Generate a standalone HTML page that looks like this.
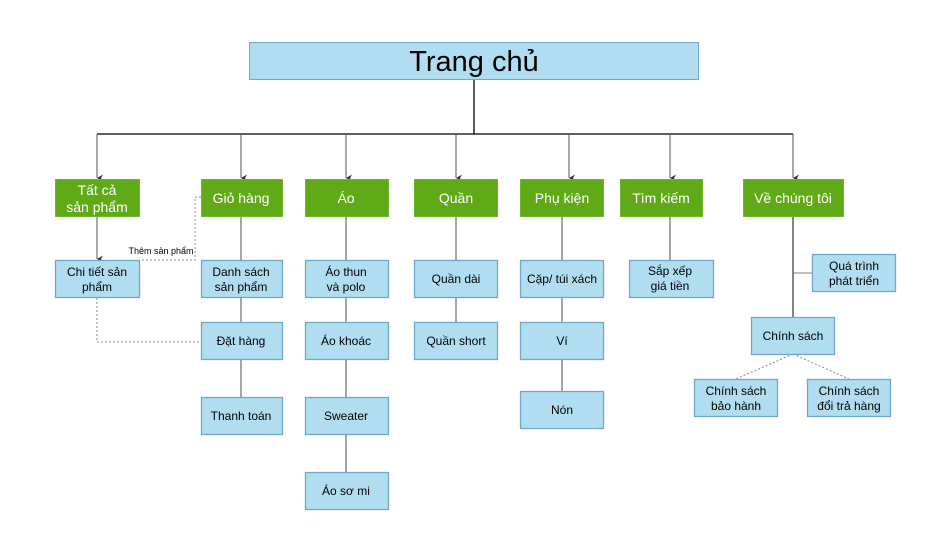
<!DOCTYPE html>
<html><head><meta charset="utf-8"><style>
html,body{margin:0;padding:0;background:#fff;}
svg{display:block;}
text{font-family:"Liberation Sans",Arial,sans-serif;}
</style></head><body>
<svg width="943" height="533" viewBox="0 0 943 533" xmlns="http://www.w3.org/2000/svg">
<defs>
<marker id="ar" markerWidth="8" markerHeight="8" refX="4" refY="7" orient="auto" markerUnits="userSpaceOnUse">
<path d="M0.5,1 L4,7 L7.5,1 L4,3 Z" fill="#333"/>
</marker>
</defs>
<g stroke="#000" stroke-width="1.3" fill="none">
<line x1="474" y1="79" x2="474" y2="134"/>
<line x1="97" y1="134" x2="793" y2="134"/>
</g>
<g stroke="#555" stroke-width="1" fill="none" marker-end="url(#ar)">
<line x1="97" y1="134" x2="97" y2="178"/>
<line x1="241" y1="134" x2="241" y2="178"/>
<line x1="346" y1="134" x2="346" y2="178"/>
<line x1="456" y1="134" x2="456" y2="178"/>
<line x1="569" y1="134" x2="569" y2="178"/>
<line x1="670" y1="134" x2="670" y2="178"/>
<line x1="793" y1="134" x2="793" y2="178"/>
<line x1="97" y1="216" x2="97" y2="259"/>
</g>
<g stroke="#777" stroke-width="1.3" fill="none">
<line x1="241" y1="216" x2="241" y2="397"/>
<line x1="346" y1="216" x2="346" y2="472"/>
<line x1="456" y1="216" x2="456" y2="322"/>
<line x1="562" y1="216" x2="562" y2="391"/>
<line x1="670" y1="216" x2="670" y2="260"/>
<line x1="793" y1="273" x2="812" y2="273" stroke="#999"/>
</g>
<line x1="793" y1="216" x2="793" y2="317" stroke="#333" stroke-width="1.2"/>
<g stroke="#888" stroke-width="1" fill="none" stroke-dasharray="2,2">
<polyline points="201,197 195,197 195,260 139,260"/>
<polyline points="97,298 97,342 201,342"/>
<line x1="793" y1="354" x2="736" y2="379"/>
<line x1="793" y1="354" x2="849" y2="379"/>
</g>
<text x="161" y="254" font-size="9" text-anchor="middle" fill="#000">Thêm sản phẩm</text>
<rect x="249.5" y="42.5" width="449" height="37" fill="#b1ddf0" stroke="#6fa8c8"/>
<text x="474" y="71" font-size="29" text-anchor="middle" fill="#000">Trang chủ</text>
<g fill="#60a917" stroke="#6fb52a">
<rect x="55.5" y="179.5" width="84" height="37"/>
<rect x="201.5" y="179.5" width="81" height="37"/>
<rect x="305.5" y="179.5" width="83" height="37"/>
<rect x="414.5" y="179.5" width="83" height="37"/>
<rect x="520.5" y="179.5" width="83" height="37"/>
<rect x="620.5" y="179.5" width="82" height="37"/>
<rect x="743.5" y="179.5" width="100" height="37"/>
</g>
<g fill="#fff" font-size="14" text-anchor="middle">
<text x="97" y="195">Tất cả</text><text x="97" y="212">sản phẩm</text>
<text x="241" y="203">Giỏ hàng</text>
<text x="346" y="203">Áo</text>
<text x="456" y="203">Quần</text>
<text x="562" y="203">Phụ kiện</text>
<text x="661" y="203">Tìm kiếm</text>
<text x="793" y="203">Về chúng tôi</text>
</g>
<g fill="#b1ddf0" stroke="#6fa8c8" stroke-width="1.3">
<rect x="55.5" y="260.5" width="84" height="37"/>
<rect x="201.5" y="260.5" width="81" height="37"/>
<rect x="201.5" y="322.5" width="81" height="37"/>
<rect x="201.5" y="397.5" width="81" height="37"/>
<rect x="305.5" y="260.5" width="83" height="37"/>
<rect x="305.5" y="322.5" width="83" height="37"/>
<rect x="305.5" y="397.5" width="83" height="37"/>
<rect x="305.5" y="472.5" width="83" height="37"/>
<rect x="414.5" y="260.5" width="83" height="37"/>
<rect x="414.5" y="322.5" width="83" height="37"/>
<rect x="520.5" y="260.5" width="83" height="37"/>
<rect x="520.5" y="322.5" width="83" height="37"/>
<rect x="520.5" y="391.5" width="83" height="37"/>
<rect x="629.5" y="260.5" width="84" height="37"/>
<rect x="812.5" y="254.5" width="83" height="37"/>
<rect x="751.5" y="317.5" width="83" height="37"/>
<rect x="694.5" y="379.5" width="83" height="37"/>
<rect x="807.5" y="379.5" width="83" height="37"/>
</g>
<g fill="#000" font-size="12" text-anchor="middle">
<text x="97" y="276">Chi tiết sản</text><text x="97" y="291">phẩm</text>
<text x="241" y="276">Danh sách</text><text x="241" y="291">sản phẩm</text>
<text x="241" y="345">Đặt hàng</text>
<text x="241" y="420">Thanh toán</text>
<text x="346" y="276">Áo thun</text><text x="346" y="291">và polo</text>
<text x="346" y="345">Áo khoác</text>
<text x="346" y="420">Sweater</text>
<text x="346" y="495">Áo sơ mi</text>
<text x="456" y="283">Quần dài</text>
<text x="456" y="345">Quần short</text>
<text x="562" y="283">Cặp/ túi xách</text>
<text x="562" y="345">Ví</text>
<text x="562" y="414">Nón</text>
<text x="670" y="275">Sắp xếp</text><text x="670" y="290">giá tiền</text>
<text x="854" y="270">Quá trình</text><text x="854" y="285">phát triển</text>
<text x="793" y="340">Chính sách</text>
<text x="736" y="395">Chính sách</text><text x="736" y="410">bảo hành</text>
<text x="849" y="395">Chính sách</text><text x="849" y="410">đổi trả hàng</text>
</g>
</svg>
</body></html>
